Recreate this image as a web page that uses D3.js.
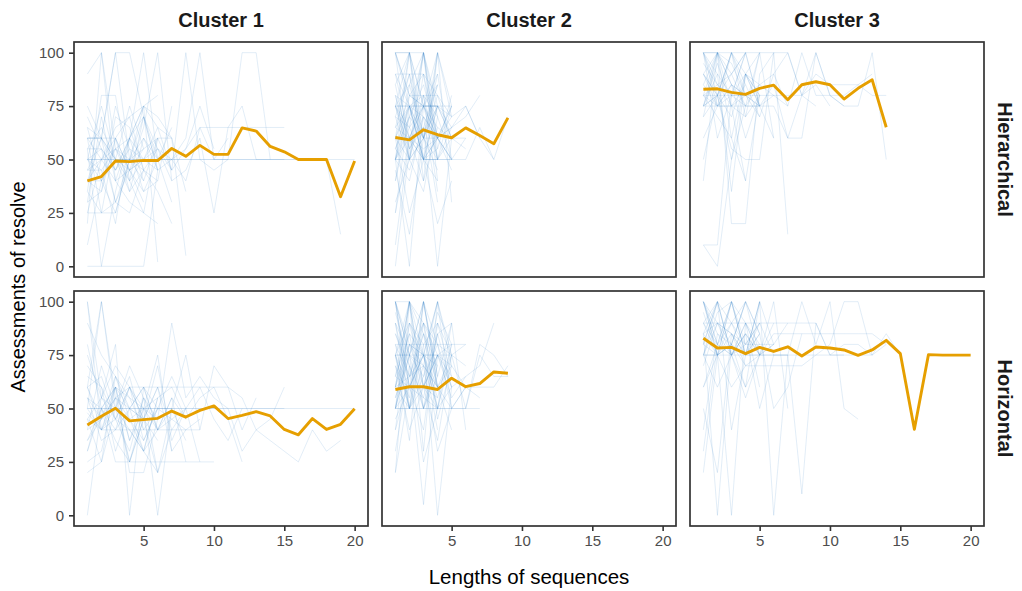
<!DOCTYPE html>
<html>
<head>
<meta charset="utf-8">
<script src="https://cdn.jsdelivr.net/npm/d3@7"></script>
<style>
  body { margin: 0; background: #fff; }
  svg { font-family: "Liberation Sans", Arial, sans-serif; }
</style>
</head>
<body>
<div id="chart"></div>
<script>
// facet labels
const clusters = ['Cluster 1', 'Cluster 2', 'Cluster 3'];
const structures = ['Hierarchical', 'Horizontal'];
const xTicks = [5, 10, 15, 20];
const yTicks = [0, 25, 50, 75, 100];

// mean assessment per sequence position (orange lines), index 0 = length 1
const meanC1Hier = [40, 42, 49.3, 49, 49.6, 49.5, 55.2, 51.5, 56.6, 52.4, 52.4, 64.8, 63.3, 56.1, 53.6, 50, 50, 50, 32.6, 49.3];
const meanC2Hier = [60.3, 59.2, 63.9, 61.6, 60.2, 64.8, 61.2, 57.4, 69.5];
const meanC3Hier = [82.9, 83.1, 81.4, 80.5, 83.3, 84.8, 78, 85, 86.4, 85, 78.3, 83.3, 87.3, 65.1];
const meanC1Horiz = [42.3, 46.4, 50.1, 44.2, 44.8, 45.4, 48.8, 46, 49.1, 51.2, 45.3, 46.8, 48.5, 46.5, 40.2, 37.7, 45.3, 40.2, 42.6, 49.9];
const meanC2Horiz = [58.9, 60.2, 60.2, 58.9, 64.2, 60.2, 61.7, 67.1, 66.5];
const meanC3Horiz = [82.9, 78.3, 78.6, 75.7, 78.6, 76.7, 78.9, 74.6, 78.8, 78.3, 77.4, 74.9, 77.4, 81.9, 75.7, 40.3, 75.2, 75, 75, 75];

// individual sequences (light blue lines), estimated from the figure
const seqC1Hier = [
  [50,50,50,50,50,50,50,50,50,50,50,50,50,50,50,50,50,50,50,50],
  [50,50,50,50,50,50,50,50,50,50,50,50,50,50,50,50,50,50,15],
  [30,35,60,45,65,100,40,45,60,25,65,75,50,50,50],
  [60,60,100,50,40,60,45,100,50,45,50,100,100,50],
  [40,50,55,60,50,45,50,55,65,65,65,65,65,65,65],
  [0,0,0,0,0,45],
  [55,0,35,60,75,2],
  [45,60,100,100,70,45],
  [20,100,40,45,50],
  [60,60,50,50,45,35,20],
  [50,40,25,50,75,80],
  [25,25,30,50,55],
  [90,100,55,45,30],
  [35,80,80,40,50,60,60],
  [55,55,30,25,45,40,75],
  [45,50,65,70,75,70,60,5],
  [60,25,25,50,60,50,30],
  [30,70,40,60,70,55,45],
  [50,45,20,60,75,65,45,55,75,55],
  [40,35,70,65,45,55,50,40,65,50,60],
  [50,75,50,35,60,45],
  [10,40,50,75,55],
  [65,60,30,45,50,55,40],
  [45,45,55,40,70,50],
  [35,25,60,35,45],
  [55,65,50,40,25,60],
  [60,50,40,30,25,20],
  [70,55,45,60,100,50,50,60,100,50,50],
  [60,60,60,45,35,40],
  [40,40,75,55,50,65,60,35],
  [50,55,45,60,40],
  [65,40,55,50,70,45],
  [25,50,60,70,45],
  [75,60,45,55,35,50,65],
  [40,60,50,45,55,60]
];
const seqC2Hier = [
  [75,60,55,60,70,75,60,50,70],
  [50,60,50,50,50,50,65,50],
  [60,75,70,60,65,75,60],
  [100,80,75,60,50,60],
  [0,55,100,60,75],
  [50,0,75,90,50],
  [75,75,75,75,60,55],
  [50,50,50,50,50],
  [90,90,90,60,45],
  [60,100,50,20,40],
  [40,70,100,50,75],
  [100,80,80,80,70],
  [25,60,40,100,30],
  [75,85,60,50,65],
  [50,65,75,75,70],
  [55,45,65,0,60],
  [80,50,35,70,50],
  [65,75,50,55,80],
  [70,50,60,80],
  [45,15,60,75],
  [60,80,75,65,60,60],
  [50,75,50,50],
  [85,55,70,60],
  [75,100,100,40],
  [30,50,80,35],
  [70,65,50,75,65,70,80],
  [50,50,60,60,50],
  [100,100,40,65],
  [60,25,50,40],
  [55,70,85,60,50],
  [80,75,75,75,75],
  [65,60,65,60],
  [50,40,70,30],
  [75,55,65,85],
  [100,75,50,60],
  [75,50,100,75],
  [50,100,75,50,60],
  [90,60,75,100],
  [60,60,75,75,60],
  [40,80,90,50],
  [100,50,75,85],
  [75,75,50,100,70],
  [65,90,60,45],
  [50,85,100,70],
  [80,60,50,75],
  [100,100,75,60,65],
  [55,75,60,90],
  [70,90,50,60,75],
  [10,60,80,70],
  [75,65,100,55],
  [60,50,90,80,60],
  [85,100,60,75],
  [50,70,60,100,75],
  [90,75,80,50],
  [25,75,60,85]
];
const seqC3Hier = [
  [100,100,100,100,100,100,100,80,100,80,75,75,100,50],
  [80,75,85,80,75,85,60,80,90,85,85,85,80,80],
  [75,75,75,75,75,75,60,60,100,80,80,85,90],
  [100,90,80,80,85,80,75,100,80,80,75],
  [90,100,85,80,70,90,100,80,85,75],
  [75,80,80,80,80,80,80,80,75],
  [10,0,50,90,75,80],
  [10,10,80,100,75,60],
  [40,100,20,20,90,100,15],
  [70,80,55,50,50,100],
  [100,75,100,80,75],
  [85,100,90,100,75],
  [60,75,85,60,80],
  [100,80,70,90,100],
  [80,85,90,75],
  [75,100,60,40],
  [90,75,80,75,85],
  [50,80,100,85,70],
  [100,100,95,80],
  [80,70,60,90,80],
  [95,85,75,70,100,60],
  [75,90,35,90,80],
  [85,75,75,40,80],
  [100,60,80,100],
  [70,100,85,75,75],
  [80,80,100,90,85,90,75],
  [75,95,75,80],
  [90,80,50,75,100],
  [100,85,80,90,75],
  [80,100,75,85],
  [90,80,100,70,80],
  [75,80,90,100]
];
const seqC1Horiz = [
  [50,50,50,50,50,50,50,50,50,50,50,50,50,50,50,50,50,50,50,50],
  [50,50,50,50,50,50,50,50,50,50,50,50,50,50,50],
  [45,40,55,60,60,60,60,60,60,60,60,55,40,35,30,25,40,30,35],
  [0,50,60,35,50,45,90,55,65,55,50,30,40,45,60],
  [100,40,60,50,45,20,50,75,40,70,60,40,55],
  [60,100,55,25,45,60,40,50,60,45,35,50],
  [80,50,35,25,50,55,60,45,55,60,45,25],
  [100,55,80,0,60,40,55,45],
  [65,60,30,50,45,70,35,50],
  [20,25,65,45,50,0,50],
  [40,70,50,25,45,60,30],
  [55,45,60,20,20,45],
  [30,55,45,40,30,40,55,25],
  [90,75,65,50,30,55],
  [35,50,25,25,25,25,25,25,25,25],
  [50,40,45,60,35,50,65,50,25],
  [60,65,45,60,50,40,50],
  [75,55,70,60,45,35],
  [25,30,60,55,40,50,50,35],
  [45,25,50,70,55,45],
  [70,60,45,30,55,40,45,40,45],
  [50,100,50,40,30,20],
  [40,45,65,55,50,75,30,40],
  [55,35,40,50,60,50],
  [30,50,60,35,55,20,40],
  [60,45,55,45,35,50,45,50],
  [48,40,40,40,40,40,40,40,40],
  [55,50,40,60,45],
  [35,45,55,50,60,40],
  [60,40,50,45,30,55],
  [45,55,50,65,40]
];
const seqC2Horiz = [
  [50,50,50,50,50,50,75,65,65],
  [60,80,75,75,70,60,60,60,70],
  [75,75,75,75,75,50,80,75,65],
  [100,60,60,75,55,65,70,90],
  [50,50,50,50,50,50,50],
  [20,100,75,50,90,40],
  [80,80,80,80,80,80],
  [100,75,100,60,50,60],
  [60,100,30,100,75,80],
  [40,90,80,0,60],
  [75,35,100,60,70],
  [85,70,5,75,60],
  [50,60,75,100,50],
  [90,50,60,50,80],
  [65,85,50,75,65],
  [75,60,40,90,75],
  [55,75,90,45,70],
  [100,100,90,80,75],
  [60,50,70,30,50],
  [70,40,60,85,90],
  [50,75,25,50,60,65],
  [80,65,85,60,40],
  [30,70,50,65],
  [75,90,60,75],
  [65,60,55,50],
  [50,80,75,70],
  [90,75,65,80,50,60,55],
  [60,65,70,60],
  [100,50,80,90],
  [45,60,60,35,75],
  [75,75,70,60,75,70],
  [100,60,75,50],
  [50,100,60,75,80],
  [75,50,90,60],
  [60,85,75,100,70],
  [80,50,100,65],
  [100,75,50,85,60],
  [40,65,90,75],
  [75,100,60,55,80],
  [55,80,70,100],
  [90,60,85,50,75],
  [65,100,50,70],
  [100,80,60,90,65],
  [50,90,75,60],
  [70,55,100,80,60],
  [85,65,75,40],
  [60,100,85,70],
  [75,50,65,95,80],
  [20,60,75,55],
  [95,70,55,85],
  [50,75,100,65,90]
];
const seqC3Horiz = [
  [75,75,75,75,75,75,75,75,75,75,75,75,75,85,75,40,75,75,75,75],
  [90,90,90,90,90,90,90,90,90,75,80,80,75,80],
  [80,100,75,85,75,85,85,85,85,85,85,85,85,80],
  [75,75,80,70,70,70,70,70,75,80,100,100,75],
  [100,75,100,80,90,75,75,100,80,100,50,45],
  [60,80,100,75,75,75,75,10,90,75,75],
  [85,0,80,100,85,50,60,85],
  [80,75,0,90,75,100,50],
  [100,85,80,60,100,0,75],
  [30,80,100,90,80,80],
  [90,100,75,55,75],
  [75,100,90,100,85],
  [50,20,85,75,100],
  [100,80,75,85,50,75],
  [70,90,85,75,100],
  [95,75,60,70,75,90],
  [85,75,100,75,80],
  [75,60,75,90,75],
  [100,90,85,80,80],
  [80,100,40,75,90],
  [60,75,80,100,75],
  [90,80,75,60,75,80],
  [75,95,100,75,85],
  [40,85,75,90,60],
  [100,75,80,75,100,80],
  [20,75,90,80],
  [85,90,75,85,75,80,90],
  [100,80,90,75,85],
  [75,90,80,100],
  [85,100,75,80,90],
  [90,75,85,70]
];

const panels = [
  { row: 0, col: 0, seqs: seqC1Hier, mean: meanC1Hier },
  { row: 0, col: 1, seqs: seqC2Hier, mean: meanC2Hier },
  { row: 0, col: 2, seqs: seqC3Hier, mean: meanC3Hier },
  { row: 1, col: 0, seqs: seqC1Horiz, mean: meanC1Horiz },
  { row: 1, col: 1, seqs: seqC2Horiz, mean: meanC2Horiz },
  { row: 1, col: 2, seqs: seqC3Horiz, mean: meanC3Horiz }
];

const width = 1022, height = 591;
const marginLeft = 74, marginTop = 42;
const panelW = 294, panelH = 235, gap = 14;

const svg = d3.select('#chart').append('svg')
  .attr('width', width)
  .attr('height', height);

const x = d3.scaleLinear().domain([0.05, 20.95]).range([0, panelW]);
const y = d3.scaleLinear().domain([-5, 105]).range([panelH, 0]);

const line = d3.line()
  .x((d, i) => x(i + 1))
  .y(d => y(d));

panels.forEach(p => {
  const g = svg.append('g')
    .attr('transform', `translate(${marginLeft + p.col * (panelW + gap)}, ${marginTop + p.row * (panelH + gap)})`);

  g.append('g')
    .selectAll('path')
    .data(p.seqs).enter()
    .append('path')
    .attr('d', line)
    .attr('fill', 'none')
    .attr('stroke', '#3d85c6')
    .attr('stroke-opacity', 0.17)
    .attr('stroke-width', 0.9);

  g.append('path')
    .datum(p.mean)
    .attr('d', line)
    .attr('fill', 'none')
    .attr('stroke', '#E69F00')
    .attr('stroke-width', 2.9)
    .attr('stroke-linejoin', 'round');

  g.append('rect')
    .attr('width', panelW)
    .attr('height', panelH)
    .attr('fill', 'none')
    .attr('stroke', '#333')
    .attr('stroke-width', 1.7);

  if (p.col === 0) {
    const yAxis = g.append('g').call(d3.axisLeft(y).tickValues(yTicks).tickSize(5).tickPadding(5));
    yAxis.select('.domain').remove();
  }
  if (p.row === 1) {
    const xAxis = g.append('g')
      .attr('transform', `translate(0, ${panelH})`)
      .call(d3.axisBottom(x).tickValues(xTicks).tickSize(5).tickPadding(4));
    xAxis.select('.domain').remove();
  }
});

svg.selectAll('.tick line').attr('stroke', '#333').attr('stroke-width', 1.6);
svg.selectAll('.tick text')
  .attr('fill', '#4d4d4d')
  .style('font-size', '15px');

// strip labels
svg.selectAll('.colLabel')
  .data(clusters).enter()
  .append('text')
  .attr('x', (d, i) => marginLeft + i * (panelW + gap) + panelW / 2)
  .attr('y', 27)
  .attr('text-anchor', 'middle')
  .style('font-size', '20px')
  .style('font-weight', 'bold')
  .attr('fill', '#1a1a1a')
  .text(d => d);

svg.selectAll('.rowLabel')
  .data(structures).enter()
  .append('text')
  .attr('transform', (d, i) => `translate(998, ${marginTop + i * (panelH + gap) + panelH / 2}) rotate(90)`)
  .attr('text-anchor', 'middle')
  .style('font-size', '20px')
  .style('font-weight', 'bold')
  .attr('fill', '#1a1a1a')
  .text(d => d);

// axis titles
svg.append('text')
  .attr('x', marginLeft + (3 * panelW + 2 * gap) / 2)
  .attr('y', 584)
  .attr('text-anchor', 'middle')
  .style('font-size', '20.5px')
  .attr('fill', '#000')
  .text('Lengths of sequences');

svg.append('text')
  .attr('transform', `translate(25, ${marginTop + panelH + gap / 2 + 3}) rotate(-90)`)
  .attr('text-anchor', 'middle')
  .style('font-size', '20px')
  .attr('fill', '#000')
  .text('Assessments of resolve');
</script>
</body>
</html>
